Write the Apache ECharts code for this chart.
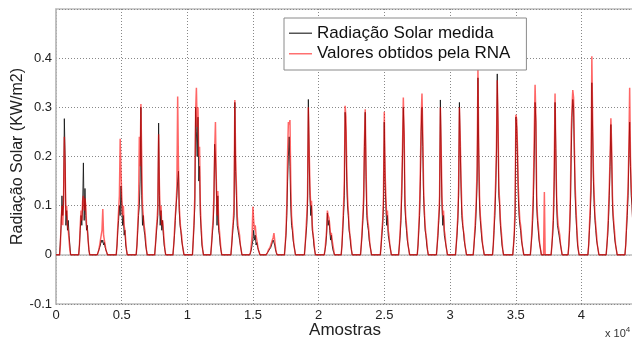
<!DOCTYPE html>
<html>
<head>
<meta charset="utf-8">
<script src="https://cdn.jsdelivr.net/npm/echarts@6/dist/echarts.min.js"></script>
<style>
html,body{margin:0;padding:0;background:#fff;}
#chart{width:632px;height:339px;}
</style>
</head>
<body>
<div id="chart"></div>
<script>
// ---- data ----
const xMax = 44000;
const stepSamples = 60;
// sample index where each day's daylight record starts
const dayStart = [274, 1726, 3142, 4586, 6104, 7512, 8902, 10388, 11778, 13314,
  14748, 15990, 17390, 18910, 20420, 21710, 23180, 24690, 26080, 27500,
  28960, 30410, 31760, 33230, 34770, 36110, 37690, 38980, 40490, 41880, 43310];

const measured = [
  [0,0.03,0.06,0.12,0.08,0.1,0.277,0.2,0.06,0.09,0.05,0.07,0.04,0.02,0],
  [0,0.02,0.05,0.08,0.06,0.1,0.187,0.07,0.135,0.08,0.05,0.06,0.03,0.01,0],
  [0,0.005,0.01,0.015,0.02,0.03,0.025,0.03,0.02,0.025,0.015,0.01,0.005,0,0],
  [0,0.02,0.05,0.07,0.1,0.08,0.14,0.1,0.06,0.08,0.04,0.05,0.02,0.01,0],
  [0,0.02,0.05,0.08,0.1,0.15,0.3,0.12,0.06,0.08,0.05,0.04,0.02,0.01,0],
  [0,0.02,0.04,0.06,0.08,0.268,0.12,0.06,0.09,0.05,0.07,0.04,0.02,0.01,0],
  [0,0.02,0.04,0.07,0.1,0.12,0.15,0.17,0.09,0.06,0.05,0.03,0.02,0.01,0],
  [0,0.03,0.06,0.1,0.3,0.25,0.2,0.28,0.15,0.18,0.08,0.05,0.02,0.01,0],
  [0,0.02,0.04,0.06,0.1,0.225,0.2,0.15,0.06,0.12,0.05,0.04,0.02,0.01,0],
  [0,0.02,0.04,0.06,0.08,0.31,0.17,0.12,0.06,0.05,0.04,0.03,0.02,0.01,0],
  [0,0.005,0.01,0.02,0.03,0.05,0.03,0.04,0.02,0.025,0.015,0.01,0.005,0,0],
  [0,0.002,0.005,0.008,0.01,0.012,0.015,0.02,0.025,0.03,0.028,0.02,0.01,0.005,0],
  [0,0.02,0.04,0.08,0.15,0.2,0.24,0.18,0.1,0.06,0.05,0.03,0.02,0.01,0],
  [0,0.02,0.04,0.06,0.1,0.316,0.2,0.12,0.08,0.1,0.05,0.04,0.02,0.01,0],
  [0,0.01,0.02,0.04,0.085,0.06,0.07,0.05,0.03,0.04,0.02,0.01,0.005,0,0],
  [0,0.02,0.05,0.08,0.12,0.29,0.25,0.15,0.1,0.08,0.05,0.04,0.02,0.01,0],
  [0,0.02,0.04,0.07,0.1,0.22,0.29,0.16,0.08,0.06,0.05,0.03,0.02,0.01,0],
  [0,0.02,0.04,0.06,0.1,0.27,0.15,0.1,0.06,0.08,0.04,0.03,0.02,0.01,0],
  [0,0.02,0.04,0.07,0.12,0.2,0.3,0.24,0.1,0.07,0.05,0.03,0.02,0.01,0],
  [0,0.02,0.05,0.08,0.15,0.25,0.3,0.22,0.12,0.08,0.05,0.04,0.02,0.01,0],
  [0,0.02,0.04,0.07,0.1,0.315,0.2,0.1,0.06,0.08,0.04,0.03,0.02,0.01,0],
  [0,0.02,0.04,0.07,0.12,0.31,0.22,0.14,0.08,0.06,0.05,0.03,0.02,0.01,0],
  [0,0.02,0.04,0.06,0.1,0.15,0.36,0.2,0.1,0.07,0.05,0.03,0.02,0.01,0],
  [0,0.02,0.05,0.08,0.13,0.2,0.368,0.25,0.12,0.1,0.06,0.04,0.02,0.01,0],
  [0,0.02,0.04,0.08,0.28,0.26,0.2,0.12,0.08,0.06,0.05,0.03,0.02,0.01,0],
  [0,0.02,0.04,0.07,0.12,0.2,0.31,0.27,0.1,0.07,0.05,0.03,0.02,0.01,0],
  [0,0.02,0.04,0.07,0.15,0.31,0.216,0.1,0.06,0.05,0.04,0.03,0.02,0.01,0],
  [0,0.02,0.05,0.1,0.2,0.28,0.316,0.3,0.2,0.12,0.08,0.05,0.02,0.01,0],
  [0,0.02,0.05,0.08,0.13,0.35,0.25,0.15,0.1,0.07,0.05,0.03,0.02,0.01,0],
  [0,0.02,0.04,0.07,0.12,0.18,0.265,0.2,0.1,0.07,0.05,0.03,0.02,0.01,0],
  [0,0.02,0.05,0.08,0.12,0.2,0.27,0.18,0.12,0.1,0.06,0.04,0.02,0.01,0]
];

const rna = [
  [0,0.02,0.07,0.1,0.06,0.11,0.24,0.18,0.08,0.1,0.06,0.05,0.03,0.01,0],
  [0,0.02,0.06,0.09,0.07,0.11,0.12,0.09,0.115,0.1,0.06,0.05,0.03,0.01,0],
  [0,0.005,0.01,0.02,0.03,0.04,0.05,0.093,0.04,0.03,0.02,0.01,0.005,0,0],
  [0,0.02,0.06,0.09,0.12,0.236,0.17,0.12,0.08,0.1,0.06,0.05,0.03,0.01,0],
  [0,0.02,0.06,0.1,0.24,0.18,0.307,0.2,0.1,0.08,0.06,0.05,0.03,0.01,0],
  [0,0.02,0.05,0.07,0.1,0.245,0.14,0.08,0.1,0.06,0.07,0.05,0.03,0.01,0],
  [0,0.02,0.05,0.08,0.1,0.14,0.322,0.18,0.1,0.07,0.05,0.04,0.02,0.01,0],
  [0,0.03,0.07,0.12,0.29,0.34,0.26,0.3,0.2,0.22,0.1,0.06,0.03,0.01,0],
  [0,0.02,0.05,0.07,0.12,0.21,0.27,0.16,0.08,0.13,0.07,0.05,0.03,0.01,0],
  [0,0.02,0.05,0.07,0.1,0.315,0.2,0.14,0.08,0.06,0.05,0.04,0.02,0.01,0],
  [0,0.005,0.02,0.04,0.098,0.07,0.05,0.06,0.04,0.03,0.02,0.01,0.005,0,0],
  [0,0.002,0.005,0.01,0.012,0.015,0.02,0.025,0.03,0.035,0.044,0.03,0.015,0.005,0],
  [0,0.02,0.05,0.1,0.206,0.27,0.265,0.274,0.15,0.08,0.06,0.04,0.02,0.01,0],
  [0,0.02,0.05,0.08,0.12,0.3,0.22,0.14,0.1,0.11,0.06,0.04,0.03,0.01,0],
  [0,0.01,0.03,0.05,0.09,0.08,0.075,0.06,0.04,0.045,0.03,0.02,0.01,0,0],
  [0,0.02,0.06,0.1,0.15,0.303,0.28,0.18,0.12,0.09,0.06,0.04,0.03,0.01,0],
  [0,0.02,0.05,0.08,0.12,0.23,0.296,0.18,0.1,0.07,0.06,0.04,0.02,0.01,0],
  [0,0.02,0.05,0.07,0.12,0.291,0.17,0.12,0.08,0.09,0.05,0.04,0.02,0.01,0],
  [0,0.02,0.05,0.08,0.14,0.22,0.32,0.25,0.12,0.08,0.06,0.04,0.02,0.01,0],
  [0,0.02,0.06,0.1,0.18,0.28,0.328,0.25,0.14,0.09,0.06,0.04,0.03,0.01,0],
  [0,0.02,0.05,0.08,0.12,0.3,0.22,0.12,0.08,0.09,0.05,0.04,0.02,0.01,0],
  [0,0.02,0.05,0.08,0.14,0.3,0.24,0.16,0.1,0.07,0.05,0.04,0.02,0.01,0],
  [0,0.02,0.05,0.08,0.12,0.18,0.379,0.22,0.12,0.08,0.06,0.04,0.02,0.01,0],
  [0,0.02,0.06,0.1,0.15,0.22,0.355,0.27,0.14,0.11,0.07,0.05,0.03,0.01,0],
  [0,0.02,0.05,0.1,0.285,0.275,0.22,0.14,0.1,0.07,0.06,0.04,0.02,0.01,0],
  [0,0.02,0.05,0.09,0.15,0.25,0.346,0.28,0.12,0.08,0.06,0.04,0.02,0.01,0],
  [0,0.02,0.05,0.09,0.18,0.328,0.2,0.12,0.08,0.06,0.05,0.04,0.02,0.01,0],
  [0,0.02,0.06,0.12,0.25,0.3,0.335,0.32,0.22,0.14,0.1,0.06,0.03,0.01,0],
  [0,0.02,0.06,0.1,0.15,0.404,0.28,0.17,0.12,0.08,0.06,0.04,0.02,0.01,0],
  [0,0.02,0.05,0.09,0.14,0.2,0.278,0.22,0.12,0.08,0.06,0.04,0.02,0.01,0],
  [0,0.02,0.06,0.1,0.14,0.22,0.34,0.2,0.14,0.11,0.07,0.05,0.03,0.01,0]
];
// isolated short spike in the RNA output: [sample, value]
const rnaExtra = [[37117, 0], [37177, 0.128], [37237, 0]];

const yTicks = [-0.1, 0, 0.1, 0.2, 0.3, 0.4];
const seriesNames = ['Radiação Solar medida', 'Valores obtidos pela RNA'];

// ---- build series points ----
function buildSeries(days, extra) {
  const pts = [[0, 0]];
  days.forEach((vals, d) => {
    const s0 = dayStart[d];
    vals.forEach((v, i) => pts.push([s0 + i * stepSamples, v]));
  });
  pts.push([xMax + 2000, 0]);
  if (extra) extra.forEach(p => pts.push(p));
  pts.sort((a, b) => a[0] - b[0]);
  return pts;
}
const measuredPts = buildSeries(measured);
const rnaPts = buildSeries(rna, rnaExtra);

const font = '"Liberation Sans", Arial, Helvetica, sans-serif';
const chart = echarts.init(document.getElementById('chart'), null, {renderer: 'canvas'});
chart.setOption({
  animation: false,
  backgroundColor: '#fff',
  grid: {left: 56, right: -2, top: 9, bottom: 35, containLabel: false, outerBoundsMode: 'none',
    show: true, borderColor: '#bdbdbd', borderWidth: 1.5, backgroundColor: 'transparent'},
  legend: {
    orient: 'vertical', left: 284, top: 18,
    data: seriesNames,
    icon: 'rect', itemWidth: 23, itemHeight: 1.5, itemGap: 0,
    padding: [5, 16, 6, 5],
    borderColor: '#8a8a8a', borderWidth: 1, backgroundColor: '#fff',
    textStyle: {fontFamily: font, fontSize: 17, color: '#111', lineHeight: 20.5}
  },
  xAxis: {
    type: 'value', min: 0, max: xMax, interval: 5000,
    name: 'Amostras', nameLocation: 'middle', nameGap: 18, nameMoveOverlap: false,
    nameTextStyle: {fontFamily: font, fontSize: 17, color: '#222'},
    axisLine: {show: true, lineStyle: {color: '#bdbdbd', width: 1.5}},
    axisTick: {show: false},
    axisLabel: {
      fontFamily: font, fontSize: 13, color: '#222', margin: 5, showMaxLabel: false,
      formatter: v => (v % 5000 === 0 ? String(v / 10000) : '')
    },
    splitLine: {show: true, lineStyle: {color: '#888', width: 1, type: [1, 2]}}
  },
  yAxis: {
    type: 'value', min: -0.1, max: 0.5, interval: 0.1,
    name: 'Radiação Solar (KW/m2)', nameLocation: 'middle', nameGap: 30, nameMoveOverlap: false,
    nameTextStyle: {fontFamily: font, fontSize: 16, color: '#222'},
    axisLine: {show: true, lineStyle: {color: '#bdbdbd', width: 1.5}},
    axisTick: {show: false},
    axisLabel: {
      fontFamily: font, fontSize: 13, color: '#222', margin: 4,
      formatter: v => {
        const r = Math.round(v * 10) / 10;
        if (!yTicks.some(t => Math.abs(t - r) < 1e-9)) return '';
        return r === 0 ? '0' : r.toFixed(1);
      }
    },
    splitLine: {show: true, lineStyle: {color: '#888', width: 1, type: [1, 2]}}
  },
  graphic: [{
    type: 'text', left: 605, top: 326,
    style: {
      text: 'x 10{s|4}', fontFamily: font, fontSize: 11, fill: '#333',
      rich: {s: {fontSize: 8, verticalAlign: 'top', padding: [0, 0, 8, 0], fontFamily: font}}
    }
  }],
  series: [
    {
      name: seriesNames[0], type: 'line', data: measuredPts, showSymbol: false, symbol: 'none',
      color: '#555', itemStyle: {color: '#555'},
      lineStyle: {color: 'rgba(20,20,20,0.85)', width: 1}, z: 2
    },
    {
      name: seriesNames[1], type: 'line', data: rnaPts, showSymbol: false, symbol: 'none',
      color: '#ff7070', itemStyle: {color: '#ff7070'},
      lineStyle: {color: 'rgba(255,0,0,0.6)', width: 1.5}, z: 3
    }
  ]
});
</script>
</body>
</html>
